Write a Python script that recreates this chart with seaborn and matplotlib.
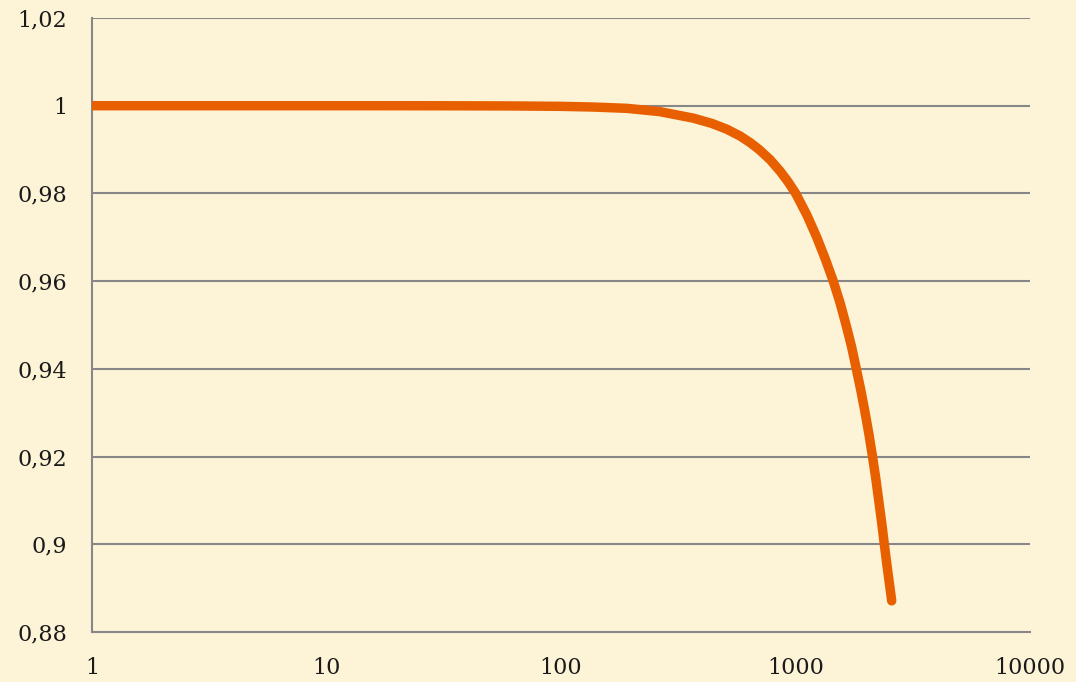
import matplotlib
matplotlib.use("Agg")
import matplotlib.pyplot as plt
import seaborn as sns
import numpy as np
import pandas as pd

# Data
x_vals = [1, 10, 30, 60, 99, 137, 191, 264, 367, 440, 509, 580, 640, 700,
          779, 862, 930, 1002, 1120, 1232, 1341, 1449, 1550, 1643, 1735,
          1817, 1901, 1981, 2058, 2130, 2200, 2264, 2330, 2392, 2458, 2572]
y_vals = [1.0, 1.0, 0.99999, 0.99995, 0.99986, 0.9997, 0.9994, 0.99865,
          0.99716, 0.99596, 0.99465, 0.9931, 0.9916, 0.9900, 0.9877, 0.9850,
          0.98264, 0.980, 0.975, 0.970, 0.965, 0.960, 0.955, 0.950, 0.945,
          0.940, 0.935, 0.930, 0.925, 0.920, 0.915, 0.910, 0.905, 0.900,
          0.895, 0.8871]
y_ticks = [0.88, 0.90, 0.92, 0.94, 0.96, 0.98, 1.00, 1.02]
y_tick_labels = ["0,88", "0,9", "0,92", "0,94", "0,96", "0,98", "1", "1,02"]
x_ticks = [1, 10, 100, 1000, 10000]
x_tick_labels = ["1", "10", "100", "1000", "10000"]

df = pd.DataFrame({"x": x_vals, "y": y_vals})

bg = "#FDF3D7"
grid_col = "#878787"
line_col = "#E85F00"

sns.set_style("white")
plt.rcParams["font.family"] = ["DejaVu Serif"]

fig = plt.figure(figsize=(10.76, 6.82), dpi=100, facecolor=bg)
ax = fig.add_axes([92/1076, 1 - 632/682, (1030 - 92)/1076, (632 - 18)/682])
ax.set_facecolor(bg)

sns.lineplot(data=df, x="x", y="y", ax=ax, color=line_col, linewidth=6.8,
             solid_capstyle="round", solid_joinstyle="round", zorder=3)

ax.set_xscale("log")
ax.set_xlim(1, 10000)
ax.set_ylim(0.88, 1.02)
ax.set_xticks(x_ticks)
ax.set_xticklabels(x_tick_labels)
ax.xaxis.set_minor_locator(matplotlib.ticker.NullLocator())
ax.set_yticks(y_ticks)
ax.set_yticklabels(y_tick_labels)
ax.set_xlabel("")
ax.set_ylabel("")

for yv in y_ticks[1:]:
    ax.axhline(yv, color=grid_col, linewidth=1.5, zorder=1)

for s in ["top", "right"]:
    ax.spines[s].set_visible(False)
for s in ["left", "bottom"]:
    ax.spines[s].set_color(grid_col)
    ax.spines[s].set_linewidth(1.5)

ax.tick_params(axis="both", which="major", direction="out", length=6,
               width=1.5, color=grid_col, labelsize=16, labelcolor="#1a1a1a")
ax.tick_params(axis="y", pad=12)
ax.tick_params(axis="x", pad=12)
ax.tick_params(which="minor", length=0)

fig.savefig("out.png", dpi=100, facecolor=bg)
